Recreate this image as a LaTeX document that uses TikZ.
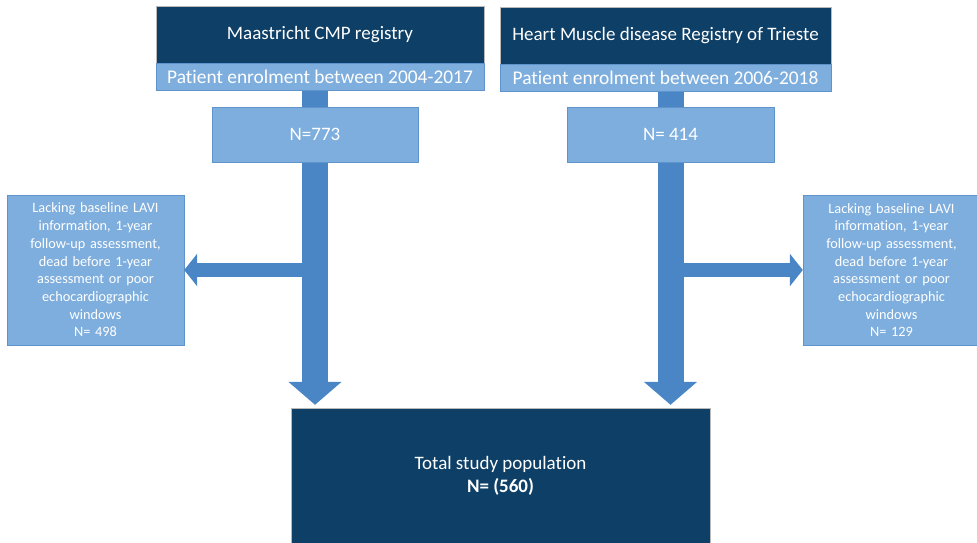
\documentclass[tikz,border=0pt]{standalone}
\usepackage{fontspec}
\setmainfont{Carlito}[Ligatures={NoCommon}]
\usetikzlibrary{arrows.meta,positioning,backgrounds}
\definecolor{navy}{HTML}{0E3F66}
\definecolor{paleblue}{HTML}{7EAEDD}
\definecolor{barblue}{HTML}{4A86C6}
\definecolor{edgeblue}{HTML}{5F93CB}

\begin{document}
\begin{tikzpicture}[x=1pt,y=-1pt,
    % --- node styles ---
    registry/.style={
      rectangle, draw=gray!55, fill=navy, text=white,
      minimum height=57pt, inner sep=0pt,
      font=\fontsize{19}{22}\selectfont},
    period/.style={
      rectangle, draw=edgeblue, fill=paleblue, text=white,
      minimum height=27pt, inner sep=0pt,
      font=\fontsize{19.4}{22}\selectfont},
    count/.style={
      rectangle, draw=edgeblue, fill=paleblue, text=white,
      minimum width=206pt, minimum height=55pt, inner sep=0pt,
      font=\fontsize{19}{22}\selectfont},
    excluded/.style={
      rectangle, draw=edgeblue, fill=paleblue, text=white,
      minimum width=177pt, minimum height=150pt, text width=170pt,
      align=center, inner sep=0pt,
      font=\fontsize{14.3}{17.7}\selectfont},
    total/.style={
      rectangle, draw=gray!55, fill=navy, text=white,
      minimum width=419pt, minimum height=136pt, align=center,
      inner sep=0pt, font=\fontsize{19}{23}\selectfont},
    mainflow/.style={draw=barblue, line width=26pt,
      -{Triangle[width=52pt,length=23pt]}},
    sideflow/.style={draw=barblue, line width=14pt,
      -{Triangle[width=32pt,length=13pt]}},
  ]
  \useasboundingbox (0,0) rectangle (977,542);
  \clip (0,0) rectangle (977,542);

  % ============== REGISTRIES (top) ==============
  \node[registry, minimum width=328pt] (maastricht) at (320,34.5) {Maastricht CMP registry};
  \node[period, minimum width=328pt, below=0pt of maastricht] (enrolM) {Patient enrolment between 2004-2017};
  \node[count, below=16pt of enrolM, xshift=-5pt] (countM) {N=773};

  \node[registry, minimum width=331pt] (trieste) at (665.5,35.5) {Heart Muscle disease Registry of Trieste};
  \node[period, minimum width=331pt, below=0pt of trieste] (enrolT) {Patient enrolment between 2006-2018};
  \node[count, minimum width=207pt, below=15pt of enrolT, xshift=5pt] (countT) {N= 414};

  % ============== EXCLUSIONS (sides) ==============
  \node[excluded] (exclM) at (95.5,270) {Lacking baseline LAVI\\information, 1-year\\follow-up assessment,\\dead before 1-year\\assessment or poor\\echocardiographic\\windows\\N= 498};
  \node[excluded] (exclT) at (891.5,270) {Lacking baseline LAVI\\information, 1-year\\follow-up assessment,\\dead before 1-year\\assessment or poor\\echocardiographic\\windows\\N= 129};

  % ============== STUDY POPULATION (bottom) ==============
  \node[total] (study) at (500.5,476) {Total study population\\\textbf{N= (560)}};

  % ============== ARROWS ==============
  \begin{scope}[on background layer]
    \draw[mainflow, shorten >=3pt] (countM |- enrolM.south) -- (countM |- study.north);
    \draw[mainflow, shorten >=3pt] (countT |- enrolT.south) -- (countT |- study.north);
  \end{scope}
  \draw[sideflow] (countM.center |- exclM.east) -- (exclM.east);
  \draw[sideflow] (countT.center |- exclT.west) -- (exclT.west);

\end{tikzpicture}
\end{document}
